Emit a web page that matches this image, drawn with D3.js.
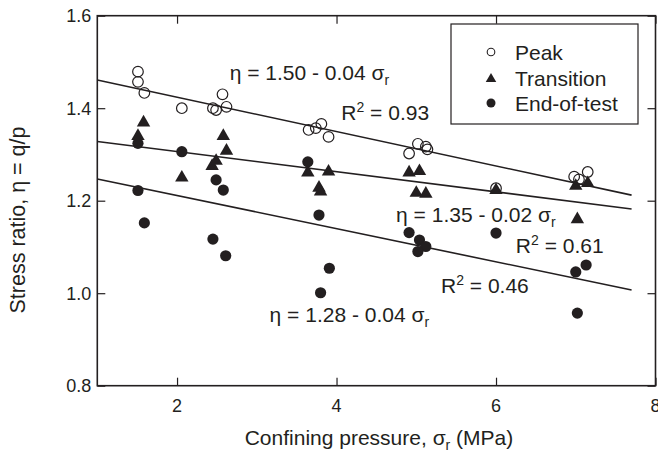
<!DOCTYPE html>
<html><head><meta charset="utf-8">
<script src="https://cdn.jsdelivr.net/npm/d3@7"></script>
<style>
body{margin:0;background:#fff;}
svg text{font-family:"Liberation Sans",Arial,Helvetica,sans-serif;fill:#231f20;}
</style></head>
<body><svg id="c" width="658" height="453"></svg>
<script>
// ---- data ----
const peakX = [1.51,1.51,1.59,2.06,2.45,2.49,2.57,2.62,3.65,3.74,3.81,3.90,4.91,5.02,5.12,5.14,6.00,6.98,7.04,7.15];
const peakY = [1.479,1.457,1.433,1.400,1.400,1.396,1.430,1.403,1.353,1.357,1.366,1.338,1.302,1.323,1.317,1.311,1.227,1.252,1.246,1.262];
const transX = [1.58,1.51,2.06,2.44,2.49,2.58,2.62,3.64,3.78,3.80,3.90,4.91,5.04,5.00,5.12,6.00,7.00,7.15,7.02];
const transY = [1.371,1.342,1.252,1.277,1.288,1.342,1.310,1.263,1.230,1.222,1.265,1.263,1.266,1.219,1.217,1.225,1.234,1.240,1.162];
const endX = [1.51,1.51,1.59,2.06,2.45,2.49,2.58,2.61,3.64,3.78,3.91,3.80,4.91,5.04,5.12,5.02,6.00,7.00,7.13,7.02];
const endY = [1.324,1.222,1.152,1.306,1.117,1.245,1.223,1.081,1.284,1.169,1.054,1.001,1.131,1.115,1.101,1.090,1.130,1.046,1.061,0.957];
const fitX = [1, 7.7];
const peakFit = [1.461, 1.212];
const transFit = [1.328, 1.182];
const endFit = [1.247, 1.007];
const xTicks = [2,4,6,8];
const yTicks = [0.8,1.0,1.2,1.4,1.6];
const seriesNames = ["Peak","Transition","End-of-test"];
const xTitle = "Confining pressure, ";
const yTitle = "Stress ratio, η = q/p";
// annotations
const annX = [2.66, 4.06, 4.747, 6.249, 5.31, 3.161];
const annY = [1.461, 1.3745, 1.1546, 1.0863, 0.9998, 0.9384];
const annText = ["η = 1.50 - 0.04 σ","R|2| = 0.93","η = 1.35 - 0.02 σ","R|2| = 0.61","R|2| = 0.46","η = 1.28 - 0.04 σ"];

// ---- chart ----
const svg = d3.select("#c");
const L=97.3, R=655.5, T=15.7, B=385.7;
const x = d3.scaleLinear().domain([1,8]).range([L,R]);
const y = d3.scaleLinear().domain([0.8,1.6]).range([B,T]);
const ink = "#231f20";

const axB = d3.axisBottom(x).tickValues(xTicks).tickSize(-8).tickFormat("");
const axT = d3.axisTop(x).tickValues(xTicks).tickSize(-8).tickFormat("");
const axL = d3.axisLeft(y).tickValues(yTicks).tickSize(-8).tickFormat("");
const axR = d3.axisRight(y).tickValues(yTicks).tickSize(-8).tickFormat("");
function styleAx(g){g.selectAll(".tick line").attr("stroke",ink).attr("stroke-width",1.2);}
svg.append("g").attr("transform",`translate(0,${B})`).call(axB).call(styleAx);
svg.append("g").attr("transform",`translate(0,${T})`).call(axT).call(styleAx);
svg.append("g").attr("transform",`translate(${L},0)`).call(axL).call(styleAx);
svg.append("g").attr("transform",`translate(${R},0)`).call(axR).call(styleAx);
svg.selectAll("path.domain").remove();
svg.append("rect").attr("x",L).attr("y",T).attr("width",R-L).attr("height",B-T)
  .attr("fill","none").attr("stroke",ink).attr("stroke-width",1.6);

// tick labels
svg.append("g").selectAll("text").data(xTicks).join("text")
  .attr("x",d=>x(d)).attr("y",B+26).attr("text-anchor","middle").attr("font-size",18).text(d=>d);
svg.append("g").selectAll("text").data(yTicks).join("text")
  .attr("x",L-6).attr("y",d=>y(d)+6.5).attr("text-anchor","end").attr("font-size",18).text(d=>d.toFixed(1));

// titles
const xt = svg.append("text").attr("x",379).attr("y",445).attr("text-anchor","middle").attr("font-size",21);
xt.append("tspan").text(xTitle+"σ");
xt.append("tspan").attr("font-size",14).attr("dy",5).text("r");
xt.append("tspan").attr("dy",-5).text(" (MPa)");
svg.append("text").attr("transform","translate(25,220) rotate(-90)").attr("text-anchor","middle")
  .attr("font-size",21.5).text(yTitle);

// fit lines
const line = d3.line().x(d=>x(d[0])).y(d=>y(d[1]));
[peakFit,transFit,endFit].forEach(f=>{
  svg.append("path").attr("d",line(fitX.map((v,i)=>[v,f[i]]))).attr("fill","none")
    .attr("stroke",ink).attr("stroke-width",1.6);
});

// points
const tri = d3.symbol().type(d3.symbolTriangle).size(78);
svg.append("g").selectAll("circle").data(endX.map((v,i)=>[v,endY[i]])).join("circle")
  .attr("cx",d=>x(d[0])).attr("cy",d=>y(d[1])).attr("r",5.6).attr("fill",ink);
svg.append("g").selectAll("path").data(transX.map((v,i)=>[v,transY[i]])).join("path")
  .attr("d",tri).attr("transform",d=>`translate(${x(d[0])},${y(d[1])+1})`).attr("fill",ink);
svg.append("g").selectAll("circle").data(peakX.map((v,i)=>[v,peakY[i]])).join("circle")
  .attr("cx",d=>x(d[0])).attr("cy",d=>y(d[1])).attr("r",5.3).attr("fill","none")
  .attr("stroke",ink).attr("stroke-width",1.2);

// annotations
annText.forEach((t,i)=>{
  const tx = svg.append("text").attr("x",x(annX[i])).attr("y",y(annY[i])).attr("font-size",21);
  if(t.startsWith("R|")){
    const parts=t.split("|");
    tx.append("tspan").text(parts[0]);
    tx.append("tspan").attr("font-size",14).attr("dy",-8).text(parts[1]);
    tx.append("tspan").attr("dy",8).text(parts[2]);
  } else {
    tx.append("tspan").text(t);
    tx.append("tspan").attr("font-size",14).attr("dy",5).text("r");
  }
});

// legend
const lg = svg.append("g");
lg.append("rect").attr("x",451).attr("y",24).attr("width",187).attr("height",100)
  .attr("fill","#fff").attr("stroke",ink).attr("stroke-width",1.2);
const ly = [52,78,103];
lg.append("circle").attr("cx",491).attr("cy",ly[0]).attr("r",3.8).attr("fill","none").attr("stroke",ink).attr("stroke-width",1.1);
lg.append("path").attr("d",d3.symbol().type(d3.symbolTriangle).size(48)).attr("transform",`translate(491,${ly[1]+1})`).attr("fill",ink);
lg.append("circle").attr("cx",491).attr("cy",ly[2]).attr("r",4.5).attr("fill",ink);
lg.selectAll("text.l").data(seriesNames).join("text").attr("class","l")
  .attr("x",515).attr("y",(d,i)=>ly[i]+7.5).attr("font-size",21).text(d=>d);
</script></body></html>
